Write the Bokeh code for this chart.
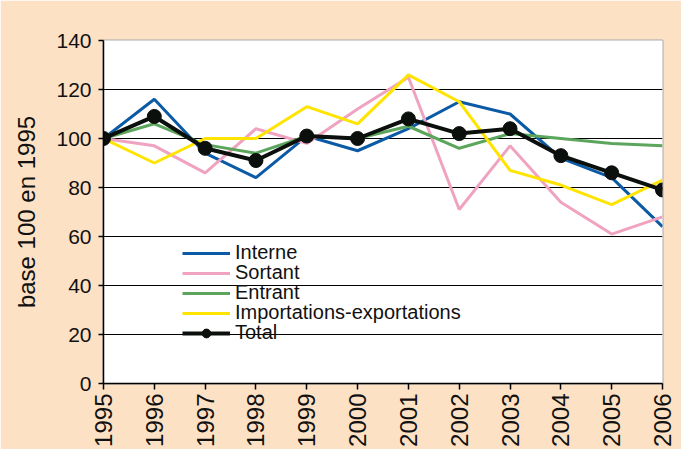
import math
from bokeh.plotting import figure
from bokeh.models import Legend, LegendItem, BoxAnnotation, FixedTicker, Range1d
from bokeh.embed import file_html
from bokeh.resources import INLINE

years = [1995, 1996, 1997, 1998, 1999, 2000, 2001, 2002, 2003, 2004, 2005, 2006]
interne = [100, 116, 94, 84, 101, 95, 104, 115, 110, 92, 84, 64]
sortant = [100, 97, 86, 104, 98, 112, 125, 71, 97, 74, 61, 68]
entrant = [100, 106, 97.5, 94, 101, 100, 105, 96, 102, 100, 98, 97]
impexp = [100, 90, 100, 100, 113, 106, 126, 115, 87, 81, 73, 83]
total = [100, 109, 96, 91, 101, 100, 108, 102, 104, 93, 86, 79]
y_ticks = [0, 20, 40, 60, 80, 100, 120, 140]
series_names = ["Interne", "Sortant", "Entrant", "Importations-exportations", "Total"]
y_title = "base 100 en 1995"

FONT = "Liberation Sans"

p = figure(width=681, height=449, output_backend="svg", toolbar_location=None,
           x_range=Range1d(1995, 2006), y_range=Range1d(0, 140),
           min_border_left=103, min_border_right=19, min_border_top=40, min_border_bottom=66)
p.border_fill_color = "#fde1c4"
p.background_fill_color = "white"
p.outline_line_color = "#aaaaaa"
p.outline_line_width = 2

# white rounded panel behind the chart (screen units relative to frame bottom-left)
bg = BoxAnnotation(left=-101, right=580, top=384, bottom=-87,
                   left_units="screen", right_units="screen",
                   top_units="screen", bottom_units="screen",
                   fill_color="white", fill_alpha=1.0, line_color=None,
                   border_radius=100, level="image")
p.add_layout(bg)

p.xgrid.visible = False
p.ygrid.grid_line_color = "black"
p.ygrid.grid_line_width = 1
p.yaxis.ticker = FixedTicker(ticks=y_ticks)
p.xaxis.ticker = FixedTicker(ticks=years)
p.xaxis.major_label_overrides = {y: str(y) for y in years}
p.xaxis.major_label_orientation = math.pi / 2

for ax in (p.xaxis[0], p.yaxis[0]):
    ax.axis_line_color = "black"
    ax.axis_line_width = 1.5
    ax.major_tick_line_color = "black"
    ax.major_tick_line_width = 1.5
    ax.minor_tick_line_color = None
    ax.major_tick_in = 0
    ax.major_label_text_font = FONT
    ax.major_label_text_color = "#111111"
p.yaxis.major_tick_out = 5
p.xaxis.major_tick_out = 6
p.yaxis.major_label_text_font_size = "21px"
p.xaxis.major_label_text_font_size = "24px"
p.yaxis.major_label_standoff = 7
p.xaxis.major_label_standoff = 4

p.yaxis.axis_label = y_title
p.yaxis.axis_label_text_font = FONT
p.yaxis.axis_label_text_font_style = "normal"
p.yaxis.axis_label_text_font_size = "24px"
p.yaxis.axis_label_text_color = "#111111"
p.yaxis.axis_label_standoff = 13

r1 = p.line(years, interne, line_color="#0b5aa6", line_width=3)
r2 = p.line(years, sortant, line_color="#f0a3c0", line_width=3)
r3 = p.line(years, entrant, line_color="#5ca55c", line_width=3)
r4 = p.line(years, impexp, line_color="#ffe400", line_width=3)
r5 = p.line(years, total, line_color="#0b100c", line_width=4)
r6 = p.scatter(years, total, size=14, marker="circle", fill_color="#0b100c", line_color="#0b100c")

renderer_sets = [[r1], [r2], [r3], [r4], [r5, r6]]
legend_bottoms = [119, 99, 79, 59, 39]
for name, rs, yb in zip(series_names, renderer_sets, legend_bottoms):
    lg = Legend(items=[LegendItem(label=name, renderers=rs)], location=(79, yb))
    lg.background_fill_alpha = 0
    lg.border_line_color = None
    lg.padding = 0
    lg.margin = 0
    lg.spacing = 0
    lg.glyph_width = 48
    lg.glyph_height = 22
    lg.label_height = 22
    lg.label_standoff = 5
    lg.label_text_font = FONT
    lg.label_text_font_size = "20px"
    lg.label_text_color = "#111111"
    lg.label_text_baseline = "middle"
    p.add_layout(lg, "center")

open("out.html", "w").write(file_html(p, INLINE))
